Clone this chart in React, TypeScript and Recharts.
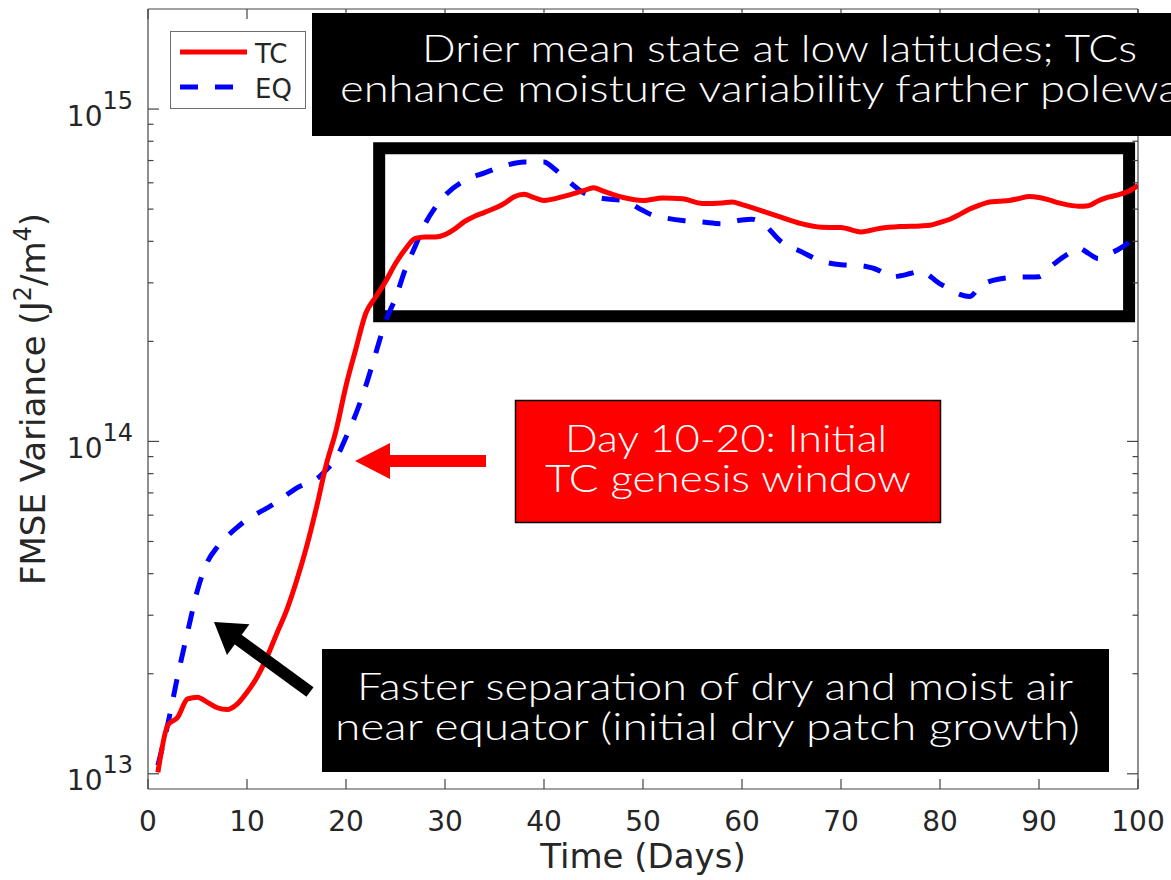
import React from 'react';
import { LineChart, Line, XAxis, YAxis, ReferenceArea, Legend } from 'recharts';

// ---------- data ----------
const tcDays = [1,2,3,4,5,6,7,8,9,10,11,12,13,14,15,16,17,18,19,20,21,22,23,24,25,26,27,28,29,30,31,32,33,34,36,37,38,39,40,42,44,45,46,48,50,52,54,56,58,59,60,62,63,64,66,68,70,72,74,76,78,79,80,81,82,83,84,85,86,87,88,89,90,91,92,93,94,95,96,97,98,99,100];
const tcValues = [1.01e13,1.40e13,1.48e13,1.68e13,1.70e13,1.64e13,1.58e13,1.56e13,1.62e13,1.76e13,1.95e13,2.24e13,2.64e13,3.1e13,3.8e13,4.8e13,6.3e13,8.5e13,1.08e14,1.47e14,1.9e14,2.43e14,2.72e14,3.03e14,3.43e14,3.79e14,4.08e14,4.12e14,4.12e14,4.19e14,4.36e14,4.59e14,4.76e14,4.89e14,5.2e14,5.45e14,5.54e14,5.41e14,5.31e14,5.46e14,5.68e14,5.80e14,5.66e14,5.42e14,5.31e14,5.40e14,5.37e14,5.20e14,5.22e14,5.25e14,5.16e14,4.94e14,4.83e14,4.72e14,4.52e14,4.41e14,4.40e14,4.27e14,4.38e14,4.43e14,4.45e14,4.47e14,4.56e14,4.66e14,4.82e14,5.0e14,5.14e14,5.25e14,5.28e14,5.31e14,5.38e14,5.46e14,5.42e14,5.33e14,5.22e14,5.14e14,5.10e14,5.12e14,5.30e14,5.43e14,5.52e14,5.65e14,5.89e14];

const eqDays = [1,2,3,4,5,6,7,8,9,10,11,12,13,14,15,16,17,18,19,20,21,22,23,24,25,26,27,28,29,30,32,34,36,38,40,41,42,44,46,48,50,51,52,54,56,58,60,61,62,64,66,68,70,72,74,75,76,77,78,80,81,82,83,84,86,88,90,91,92,93,94,95,96,97,98,100];
const eqValues = [1.06e13,1.41e13,1.97e13,2.67e13,3.57e13,4.34e13,4.81e13,5.18e13,5.51e13,5.82e13,6.06e13,6.30e13,6.56e13,6.90e13,7.24e13,7.48e13,7.70e13,8.2e13,8.9e13,1.03e14,1.21e14,1.47e14,1.84e14,2.30e14,2.70e14,3.30e14,3.87e14,4.52e14,5.05e14,5.5e14,6.10e14,6.43e14,6.75e14,6.93e14,6.93e14,6.62e14,6.25e14,5.6e14,5.38e14,5.31e14,4.95e14,4.79e14,4.72e14,4.62e14,4.57e14,4.52e14,4.64e14,4.66e14,4.55e14,3.98e14,3.72e14,3.49e14,3.40e14,3.38e14,3.25e14,3.12e14,3.15e14,3.20e14,3.25e14,2.98e14,2.87e14,2.77e14,2.73e14,2.92e14,3.08e14,3.12e14,3.13e14,3.32e14,3.51e14,3.68e14,3.82e14,3.68e14,3.55e14,3.66e14,3.78e14,4.17e14];

const xTicks = [0,10,20,30,40,50,60,70,80,90,100];
const yTicks = [
  1e13,2e13,3e13,4e13,5e13,6e13,7e13,8e13,9e13,
  1e14,2e14,3e14,4e14,5e14,6e14,7e14,8e14,9e14,
  1e15,
];
const yDomain = [9e12, 2e15];
const xDomain = [0, 100];

// highlight window (data coordinates)
const boxDays = [23.35, 99.1];
const boxValues = [2.38e14, 7.62e14];

const series = [
  { key: 'TC', color: '#ff0000', dash: undefined as string | undefined },
  { key: 'EQ', color: '#0000ff', dash: '18 17' },
];

const tcData = tcDays.map((d, i) => ({ day: d, TC: tcValues[i] }));
const eqData = eqDays.map((d, i) => ({ day: d, EQ: eqValues[i] }));

const AXIS = '#444444';
const TXT = '#262626';
const FONT = '"DejaVu Sans", sans-serif';
const ANN = 'Lato, "Open Sans", sans-serif';

const isMajor = (v: number) => {
  const e = Math.log10(v);
  return Math.abs(e - Math.round(e)) < 1e-6;
};

const LeftYTick = (p: any) => {
  const { x, y, payload } = p;
  const v = payload.value;
  const major = isMajor(v);
  return (
    <g>
      <line x1={x} x2={x + (major ? 11 : 5.5)} y1={y} y2={y} stroke={AXIS} strokeWidth={1.2} />
      {major && (
        <text x={x - 15} y={y + 16.5} textAnchor="end" fill={TXT} fontSize={28} fontFamily={FONT}>
          <tspan>10</tspan>
          <tspan dy={-17} fontSize={24}>{String(Math.round(Math.log10(v)))}</tspan>
        </text>
      )}
    </g>
  );
};

const RightYTick = (p: any) => {
  const { x, y, payload } = p;
  const major = isMajor(payload.value);
  return <line x1={x} x2={x - (major ? 11 : 5.5)} y1={y} y2={y} stroke={AXIS} strokeWidth={1.2} />;
};

const BottomXTick = (p: any) => {
  const { x, y, payload } = p;
  return (
    <g>
      <line x1={x} x2={x} y1={y} y2={y - 10} stroke={AXIS} strokeWidth={1.2} />
      <text x={x} y={y + 42} textAnchor="middle" fill={TXT} fontSize={28} fontFamily={FONT}>
        {payload.value}
      </text>
    </g>
  );
};

const TopXTick = (p: any) => {
  const { x, y } = p;
  return <line x1={x} x2={x} y1={y} y2={y + 10} stroke={AXIS} strokeWidth={1.2} />;
};

const XLabel = (p: any) => {
  const vb = p.viewBox || {};
  return (
    <text x={vb.x + vb.width / 2} y={vb.y + 79} textAnchor="middle" fill={TXT} fontSize={34} fontFamily={FONT}>
      Time (Days)
    </text>
  );
};

const YLabel = (p: any) => {
  const vb = p.viewBox || {};
  const cx = vb.x + 45;
  const cy = vb.y + vb.height / 2;
  return (
    <text
      x={cx}
      y={cy}
      transform={`rotate(-90, ${cx}, ${cy})`}
      textAnchor="middle"
      fill={TXT}
      fontSize={34}
      fontFamily={FONT}
    >
      <tspan>FMSE Variance (J</tspan>
      <tspan dy={-14} fontSize={24}>2</tspan>
      <tspan dy={14}>/m</tspan>
      <tspan dy={-14} fontSize={24}>4</tspan>
      <tspan dy={14}>)</tspan>
    </text>
  );
};

const LegendBox = (p: any) => {
  const payload = [...(p.payload || [])].sort(
    (a: any, b: any) =>
      series.findIndex((s) => s.key === a.value) - series.findIndex((s) => s.key === b.value)
  );
  return (
    <svg width={136} height={78} style={{ display: 'block' }}>
      <rect x={0.5} y={0.5} width={135} height={77} fill="#ffffff" stroke="#6e6e6e" strokeWidth={1} />
      {payload.map((entry: any, i: number) => {
        const s = series.find((q) => q.key === entry.value) || series[0];
        const ly = 21 + i * 35;
        return (
          <g key={entry.value}>
            <line x1={10} x2={77} y1={ly} y2={ly} stroke={s.color} strokeWidth={5} strokeDasharray={s.dash} />
            <text x={85} y={ly + 11} fontSize={26} fill={TXT} fontFamily={FONT}>
              {entry.value}
            </text>
          </g>
        );
      })}
    </svg>
  );
};

const annText = {
  fill: '#ffffff',
  fontSize: 38,
  fontWeight: 300,
  fontFamily: ANN,
  textAnchor: 'middle' as const,
  lengthAdjust: 'spacingAndGlyphs' as const,
};

const Overlay = () => (
  <svg
    width={1171}
    height={880}
    style={{ position: 'absolute', left: 0, top: 0, pointerEvents: 'none' }}
  >
    {/* top annotation */}
    <rect x={312} y={13} width={940} height={123} fill="#000000" />
    <text x={779.5} y={62} textLength={715} {...annText}>
      Drier mean state at low latitudes; TCs
    </text>
    <text x={780} y={102} textLength={880} {...annText}>
      enhance moisture variability farther poleward
    </text>

    {/* red annotation */}
    <rect x={515.5} y={400.5} width={425} height={122} fill="#ff0000" stroke="#000000" strokeWidth={1.5} />
    <text x={726} y={452} textLength={322} {...annText}>
      Day 10-20: Initial
    </text>
    <text x={728} y={492} textLength={366} {...annText}>
      TC genesis window
    </text>
    {/* red arrow */}
    <rect x={388} y={455} width={98} height={12} fill="#ff0000" />
    <polygon points="355,461 390,443 390,479" fill="#ff0000" />

    {/* bottom annotation */}
    <rect x={322} y={649} width={787} height={123} fill="#000000" />
    <text x={715} y={700} textLength={716} {...annText}>
      Faster separation of dry and moist air
    </text>
    <text x={707.5} y={740} textLength={745} {...annText}>
      near equator (initial dry patch growth)
    </text>
    {/* black arrow */}
    <line x1={310} y1={692} x2={236} y2={638} stroke="#000000" strokeWidth={12} />
    <polygon points="214,622 227,655 249.4,624.3" fill="#000000" />
  </svg>
);

export default function App() {
  return (
    <div
      style={{
        position: 'absolute',
        left: 0,
        top: 0,
        width: 1171,
        height: 880,
        overflow: 'hidden',
        background: '#ffffff',
      }}
    >
      <LineChart width={1171} height={880} margin={{ top: 8, right: 32, bottom: 0, left: 0 }}>
        <XAxis
          xAxisId="b"
          dataKey="day"
          type="number"
          domain={xDomain}
          ticks={xTicks}
          interval={0}
          height={91}
          tickSize={0}
          tickMargin={0}
          tickLine={false}
          axisLine={{ stroke: AXIS, strokeWidth: 1.2 }}
          tick={BottomXTick}
          allowDataOverflow
          label={<XLabel />}
        />
        <XAxis
          xAxisId="t"
          orientation="top"
          dataKey="day"
          type="number"
          domain={xDomain}
          ticks={xTicks}
          interval={0}
          height={1}
          tickSize={0}
          tickMargin={0}
          tickLine={false}
          axisLine={{ stroke: AXIS, strokeWidth: 1.2 }}
          tick={TopXTick}
          allowDataOverflow
        />
        <YAxis
          yAxisId="l"
          scale="log"
          type="number"
          domain={yDomain}
          ticks={yTicks}
          interval={0}
          width={148}
          tickSize={0}
          tickMargin={0}
          tickLine={false}
          axisLine={{ stroke: AXIS, strokeWidth: 1.2 }}
          tick={LeftYTick}
          allowDataOverflow
          label={<YLabel />}
        />
        <YAxis
          yAxisId="r"
          orientation="right"
          scale="log"
          type="number"
          domain={yDomain}
          ticks={yTicks}
          interval={0}
          width={1}
          tickSize={0}
          tickMargin={0}
          tickLine={false}
          axisLine={{ stroke: AXIS, strokeWidth: 1.2 }}
          tick={RightYTick}
          allowDataOverflow
        />
        <Line
          xAxisId="b"
          yAxisId="l"
          data={eqData}
          dataKey="EQ"
          name="EQ"
          type="monotone"
          stroke="#0000ff"
          strokeWidth={5}
          strokeDasharray="18 17"
          dot={false}
          activeDot={false}
          isAnimationActive={false}
        />
        <Line
          xAxisId="b"
          yAxisId="l"
          data={tcData}
          dataKey="TC"
          name="TC"
          type="monotone"
          stroke="#ff0000"
          strokeWidth={5}
          dot={false}
          activeDot={false}
          isAnimationActive={false}
        />
        <ReferenceArea
          xAxisId="b"
          yAxisId="l"
          x1={boxDays[0]}
          x2={boxDays[1]}
          y1={boxValues[0]}
          y2={boxValues[1]}
          fill="none"
          fillOpacity={0}
          stroke="#000000"
          strokeWidth={12}
          ifOverflow="visible"
        />
        <Legend
          layout="vertical"
          align="center"
          verticalAlign="middle"
          content={<LegendBox />}
          wrapperStyle={{ position: 'absolute', left: 170, top: 31, width: 136, height: 78 }}
        />
      </LineChart>
      <Overlay />
    </div>
  );
}
